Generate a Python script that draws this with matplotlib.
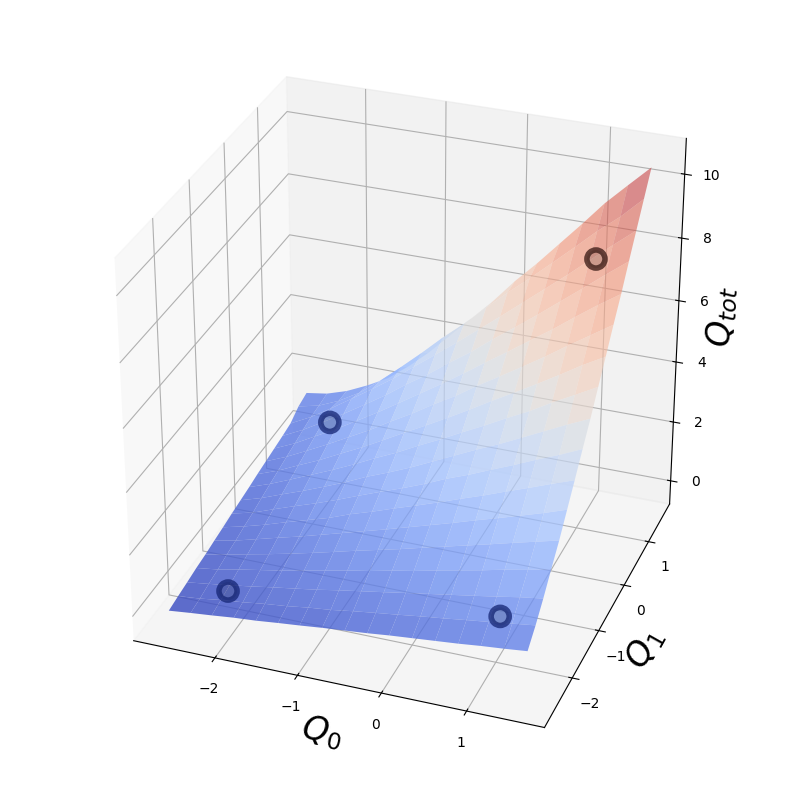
import numpy as np
import matplotlib
matplotlib.use('Agg')
import matplotlib.pyplot as plt
from matplotlib import cm

# grid of the action values
q_grid = [-2.69, -2.42, -2.16, -1.89, -1.62, -1.35, -1.09, -0.82, -0.55, -0.28, -0.02, 0.25, 0.52, 0.79, 1.05, 1.32, 1.59]

# one row per q_grid value of Q1, one column per q_grid value of Q0
q_tot = [
    [-.10, -.03, .03, .10, .15, .22, .28, .35, .41, .47, .54, .60, .66, .72, .79, .85, .92],
    [-.03, .03, .12, .19, .28, .35, .44, .51, .61, .70, .78, .87, .95, 1.04, 1.12, 1.21, 1.30],
    [.03, .12, .21, .31, .42, .52, .62, .74, .85, .96, 1.07, 1.18, 1.29, 1.40, 1.51, 1.63, 1.73],
    [.10, .19, .32, .44, .56, .70, .83, .97, 1.09, 1.24, 1.36, 1.51, 1.65, 1.79, 1.94, 2.07, 2.23],
    [.15, .28, .42, .56, .71, .87, 1.03, 1.20, 1.36, 1.52, 1.69, 1.86, 2.03, 2.20, 2.37, 2.54, 2.71],
    [.22, .35, .52, .70, .87, 1.06, 1.24, 1.43, 1.62, 1.82, 2.01, 2.21, 2.42, 2.62, 2.82, 3.03, 3.26],
    [.28, .44, .62, .83, 1.03, 1.23, 1.47, 1.68, 1.91, 2.13, 2.35, 2.59, 2.82, 3.07, 3.30, 3.55, 3.79],
    [.35, .51, .74, .97, 1.19, 1.43, 1.68, 1.93, 2.17, 2.43, 2.71, 2.96, 3.24, 3.51, 3.79, 4.06, 4.36],
    [.41, .61, .85, 1.09, 1.35, 1.62, 1.91, 2.17, 2.45, 2.76, 3.06, 3.37, 3.66, 3.98, 4.29, 4.61, 4.91],
    [.47, .70, .96, 1.24, 1.52, 1.82, 2.13, 2.43, 2.77, 3.09, 3.42, 3.75, 4.10, 4.43, 4.80, 5.15, 5.51],
    [.54, .78, 1.07, 1.36, 1.69, 2.01, 2.35, 2.71, 3.06, 3.42, 3.78, 4.17, 4.54, 4.92, 5.30, 5.71, 6.08],
    [.60, .87, 1.18, 1.51, 1.86, 2.21, 2.59, 2.96, 3.37, 3.75, 4.17, 4.57, 4.98, 5.40, 5.83, 6.26, 6.69],
    [.66, .95, 1.29, 1.64, 2.03, 2.42, 2.82, 3.24, 3.66, 4.10, 4.54, 4.98, 5.44, 5.89, 6.36, 6.83, 7.27],
    [.72, 1.04, 1.40, 1.79, 2.20, 2.62, 3.07, 3.50, 3.98, 4.43, 4.92, 5.40, 5.89, 6.40, 6.89, 7.41, 7.91],
    [.79, 1.12, 1.51, 1.94, 2.37, 2.82, 3.30, 3.79, 4.29, 4.80, 5.30, 5.83, 6.36, 6.89, 7.43, 7.98, 8.51],
    [1.00, 1.15, 1.42, 1.80, 2.30, 2.85, 3.40, 4.00, 4.55, 5.15, 5.71, 6.26, 6.83, 7.41, 7.98, 8.51, 9.13],
    [1.10, 1.20, 1.40, 1.70, 2.05, 2.55, 3.10, 3.75, 4.40, 5.05, 5.75, 6.40, 7.10, 7.80, 8.50, 9.13, 9.75],
]

# the four marked joint actions
point_q0 = [-2.27, -2.22, 1.03, 1.09]
point_q1 = [-1.96, 1.17, -1.96, 1.17]
point_tot = [-0.33, 0.95, 0.66, 7.86]
point_edge = [(0.08, 0.14, 0.45, 0.75), (0.08, 0.14, 0.45, 0.75), (0.08, 0.14, 0.45, 0.75), (0.21, 0.09, 0.07, 0.75)]

Q0, Q1 = np.meshgrid(q_grid, q_grid)
Z = np.array(q_tot) * 1.07

# plot_surface takes one colour per cell, from the cell's first corner
mean = (Z[:-1, :-1] + Z[1:, 1:]) / 2
colors = np.zeros(Z.shape + (4,))
colors[:-1, :-1] = cm.coolwarm((mean + 0.1) / 10.3)
# steep parts of the surface look thinner in the reference
colors[:-1, :-1, 3] = 0.82 - 0.03 * mean

fig = plt.figure(figsize=(8, 8), dpi=100)
ax = fig.add_axes([0.115, 0.118, 0.775, 0.77], projection='3d')
ax.set_box_aspect((1, 1, 1), zoom=1.177)
ax.computed_zorder = False
ax.plot_surface(Q0, Q1, Z, facecolors=colors, shade=False, zorder=1,
                rstride=1, cstride=1, linewidth=0, edgecolor='none', antialiased=True)
ax.scatter(point_q0, point_q1, point_tot, facecolors=[(0, 0, 0, 0.15)], edgecolors=point_edge,
           s=170, linewidths=4, depthshade=False, zorder=2)

ax.set_xlim(-3.0, 1.9)
ax.set_ylim(-3.0, 1.9)
ax.set_zlim(-0.8, 11.1)
ax.set_xticks([-2, -1, 0, 1])
ax.set_yticks([-2, -1, 0, 1])
ax.set_zticks([0, 2, 4, 6, 8, 10])
ax.tick_params(axis='x', pad=1.5)
ax.tick_params(axis='y', pad=2)
ax.set_xlabel('$Q_0$', fontsize=24, labelpad=-2)
ax.set_ylabel('$Q_1$', fontsize=24, labelpad=-0.5)
ax.set_zlabel('$Q_{tot}$', fontsize=24, labelpad=-1)
ax.view_init(elev=30, azim=-70)

fig.savefig('out.png')
